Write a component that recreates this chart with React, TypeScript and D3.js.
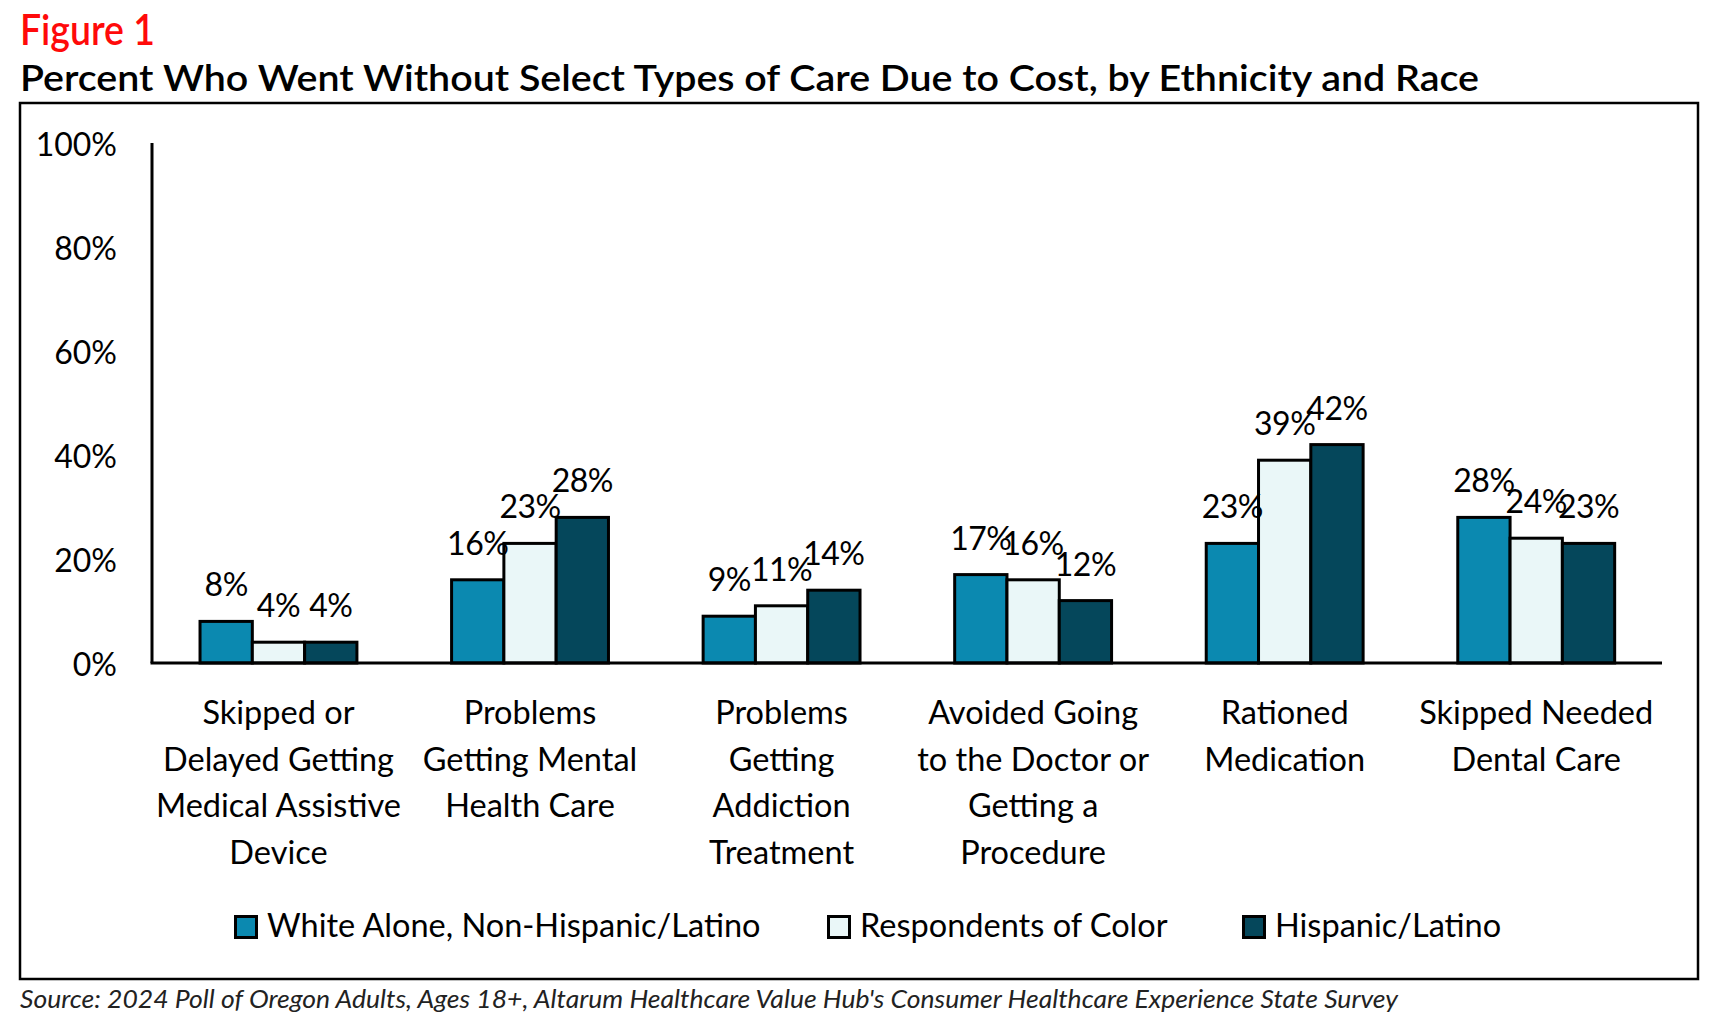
import React from "react";
import * as d3 from "d3";

const categories = [
  ["Skipped or", "Delayed Getting", "Medical Assistive", "Device"],
  ["Problems", "Getting Mental", "Health Care"],
  ["Problems", "Getting", "Addiction", "Treatment"],
  ["Avoided Going", "to the Doctor or", "Getting a", "Procedure"],
  ["Rationed", "Medication"],
  ["Skipped Needed", "Dental Care"],
];
const seriesNames = ["White Alone, Non-Hispanic/Latino", "Respondents of Color", "Hispanic/Latino"];
const whiteValues = [8, 16, 9, 17, 23, 28];
const colorValues = [4, 23, 11, 16, 39, 24];
const hispanicValues = [4, 28, 14, 12, 42, 23];
const seriesColors = ["#0b89b0", "#eaf7f8", "#05475b"];
const yTicks = [0, 20, 40, 60, 80, 100];
const figureLabel = "Figure 1";
const titleText = "Percent Who Went Without Select Types of Care Due to Cost, by Ethnicity and Race";
const sourceText = "Source: 2024 Poll of Oregon Adults, Ages 18+, Altarum Healthcare Value Hub's Consumer Healthcare Experience State Survey";

const W = 1723;
const H = 1027;
const FONT = "Lato, 'Noto Sans', sans-serif";

export default function App() {
  const series = [whiteValues, colorValues, hispanicValues];
  const catKeys = categories.map((c) => c.join(" "));
  const x0 = d3.scaleBand<string>().domain(catKeys).range([152.7, 1662]).paddingInner(0).paddingOuter(0);
  const x1 = d3
    .scaleBand<string>()
    .domain(seriesNames)
    .range([0, x0.bandwidth()])
    .paddingInner(0)
    .paddingOuter(0.905);
  const y = d3.scaleLinear().domain([0, 100]).range([663, 143]);

  const legendX = [234, 827, 1242];

  return (
    <svg
      width={W}
      height={H}
      viewBox={`0 0 ${W} ${H}`}
      style={{ position: "absolute", left: 0, top: 0, display: "block", background: "#fff" }}
      fontFamily={FONT}
    >
      <rect x={0} y={0} width={W} height={H} fill="#fff" />
      <text x={20} y={45} fontSize={43} fill="#ff0a0a" fontWeight={600} textLength={135} lengthAdjust="spacingAndGlyphs">
        {figureLabel}
      </text>
      <text x={20} y={91} fontSize={37} fill="#000" fontWeight={600} textLength={1459} lengthAdjust="spacingAndGlyphs">
        {titleText}
      </text>
      <rect x={20} y={103} width={1678} height={876} fill="none" stroke="#000" strokeWidth={2.5} />

      {/* y tick labels */}
      {yTicks.map((t) => (
        <text key={t} x={117} y={y(t)} fontSize={32} textAnchor="end" dominantBaseline="central" fill="#000">
          {t}%
        </text>
      ))}

      {/* bars */}
      {catKeys.map((ck, ci) =>
        seriesNames.map((sn, si) => {
          const v = series[si][ci];
          const bx = (x0(ck) ?? 0) + (x1(sn) ?? 0);
          return (
            <rect
              key={ck + sn}
              x={bx}
              y={y(v)}
              width={x1.bandwidth()}
              height={y(0) - y(v)}
              fill={seriesColors[si]}
              stroke="#000"
              strokeWidth={3}
            />
          );
        })
      )}

      {/* value labels */}
      {catKeys.map((ck, ci) =>
        seriesNames.map((sn, si) => {
          const v = series[si][ci];
          const cx = (x0(ck) ?? 0) + (x1(sn) ?? 0) + x1.bandwidth() / 2;
          return (
            <text key={"l" + ck + sn} x={cx} y={y(v) - 25} fontSize={32} textAnchor="middle" fill="#000" letterSpacing={-0.5}>
              {v}%
            </text>
          );
        })
      )}

      {/* axes */}
      <line x1={152} x2={152} y1={143} y2={663} stroke="#000" strokeWidth={3} />
      <line x1={150.5} x2={1662} y1={663} y2={663} stroke="#000" strokeWidth={3} />

      {/* category labels */}
      {categories.map((lines, ci) => {
        const cx = (x0(catKeys[ci]) ?? 0) + x0.bandwidth() / 2;
        return (
          <text key={"c" + ci} x={cx} y={724} fontSize={32.5} textAnchor="middle" fill="#000">
            {lines.map((ln, li) => (
              <tspan key={li} x={cx} y={724 + li * 46.5}>
                {ln}
              </tspan>
            ))}
          </text>
        );
      })}

      {/* legend */}
      {seriesNames.map((sn, si) => (
        <g key={"lg" + si}>
          <rect x={legendX[si] + 1.5} y={916.5} width={21} height={21} fill={seriesColors[si]} stroke="#000" strokeWidth={3} />
          <text x={legendX[si] + 33} y={937} fontSize={32.5} fill="#000">
            {sn}
          </text>
        </g>
      ))}

      <text x={20} y={1008} fontSize={26} fontStyle="italic" fill="#222" textLength={1378} lengthAdjust="spacingAndGlyphs">
        {sourceText}
      </text>
    </svg>
  );
}
